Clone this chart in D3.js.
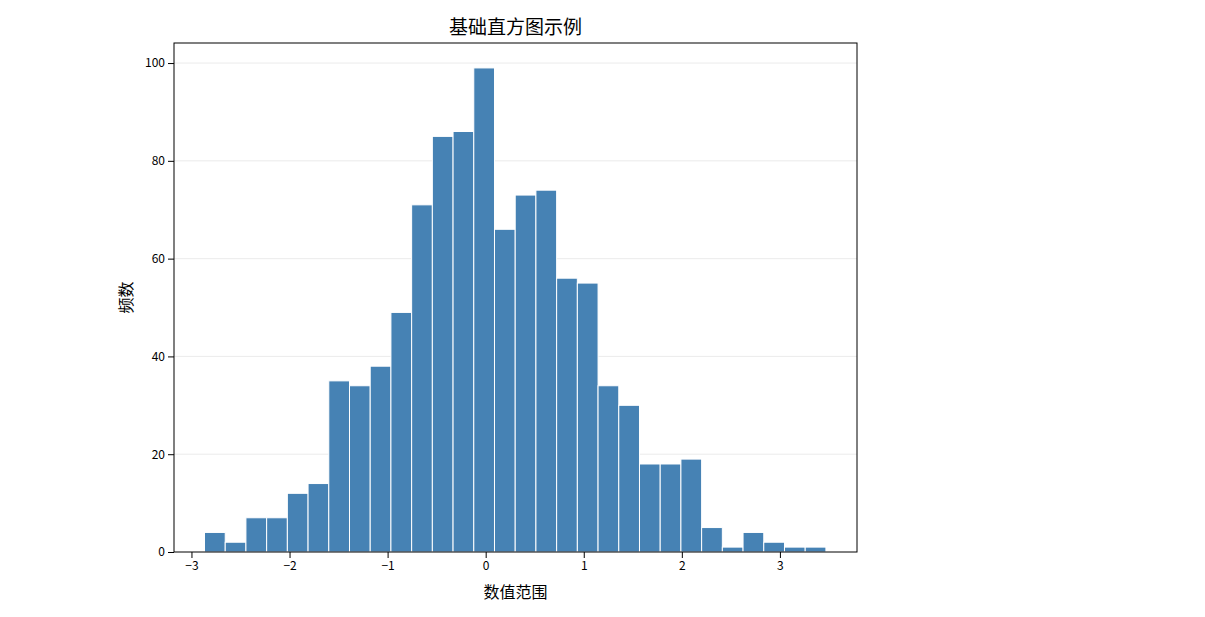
<!DOCTYPE html>
<html><head><meta charset="utf-8">
<script src="https://cdn.jsdelivr.net/npm/d3@7"></script>
<style>body{margin:0;background:#fff;font-family:"Noto Sans CJK SC",sans-serif}</style>
</head><body>
<svg id="chart" width="1205" height="617"></svg>
<script>
// histogram data
const binStart = -2.867, binWidth = 0.2112;
const counts = [4,2,7,7,12,14,35,34,38,49,71,85,86,99,66,73,74,56,55,34,30,18,18,19,5,1,4,2,1,1];
const xTicks = [-3,-2,-1,0,1,2,3];
const yTicks = [0,20,40,60,80,100];

const svg = d3.select("#chart");
const mLeft = 174, mRight = 857, mTop = 43, mBottom = 552;

const x = d3.scaleLinear().domain([-3.178, 3.786]).range([mLeft, mRight]);
const y = d3.scaleLinear().domain([0, 104.1]).range([mBottom, mTop]);

// grid
svg.append("g").selectAll("line").data(yTicks.slice(1)).enter().append("line")
  .attr("x1", mLeft).attr("x2", mRight)
  .attr("y1", d => y(d)).attr("y2", d => y(d))
  .attr("stroke", "#e6e6e6").attr("stroke-width", 0.8);

// bars
svg.append("g").selectAll("rect").data(counts).enter().append("rect")
  .attr("x", (d, i) => x(binStart + i * binWidth))
  .attr("width", x(binWidth) - x(0))
  .attr("y", d => y(d))
  .attr("height", d => y(0) - y(d))
  .attr("fill", "#4682b4")
  .attr("stroke", "#fff").attr("stroke-width", 1);

const fmt = d => d < 0 ? "\u2212" + Math.abs(d) : d;
svg.append("g").attr("transform", `translate(0,${mBottom})`)
  .call(d3.axisBottom(x).tickValues(xTicks).tickFormat(fmt).tickSizeOuter(0))
  .call(g => g.select(".domain").remove())
  .selectAll("text").attr("font-size", 12).attr("fill", "#000").attr("font-family", "Noto Sans CJK SC");
svg.append("g").attr("transform", `translate(${mLeft},0)`)
  .call(d3.axisLeft(y).tickValues(yTicks).tickSizeOuter(0))
  .call(g => g.select(".domain").remove())
  .selectAll("text").attr("font-size", 12).attr("fill", "#000").attr("font-family", "Noto Sans CJK SC");

svg.append("rect").attr("x", mLeft).attr("y", mTop)
  .attr("width", mRight - mLeft).attr("height", mBottom - mTop)
  .attr("fill", "none").attr("stroke", "#000").attr("stroke-width", 1);

svg.append("text").attr("x", (mLeft + mRight) / 2).attr("y", 34)
  .attr("text-anchor", "middle").attr("font-size", 19).text("基础直方图示例");
svg.append("text").attr("x", (mLeft + mRight) / 2).attr("y", 598)
  .attr("text-anchor", "middle").attr("font-size", 16).text("数值范围");
svg.append("text").attr("transform", `translate(132,${(mTop + mBottom) / 2}) rotate(-90)`)
  .attr("text-anchor", "middle").attr("font-size", 16).text("频数");
</script>
</body></html>
